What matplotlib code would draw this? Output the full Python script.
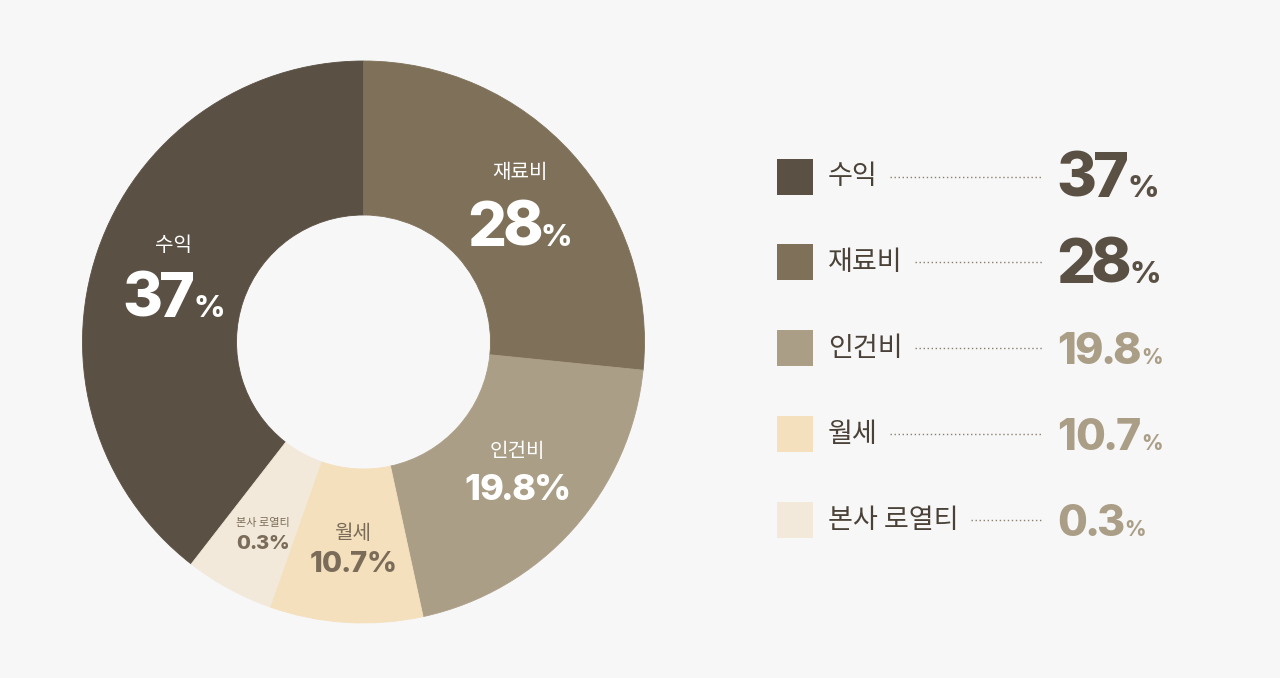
import math
import matplotlib
matplotlib.use('Agg')
import matplotlib.pyplot as plt
from matplotlib.patches import Rectangle
from matplotlib.textpath import TextPath
from matplotlib.font_manager import FontProperties

# ---- data ----
categories = ['수익', '재료비', '인건비', '월세', '본사 로열티']
value_labels = ['37', '28', '19.8', '10.7', '0.3']
# slice sizes as drawn in the reference (share of the ring)
slice_sizes = [39.5, 26.6, 20.0, 8.8, 5.1]

# ---- style ----
colors = ['#5a5044', '#7f7159', '#ab9e87', '#f4e0bd', '#f2e9da']
inner_text_colors = ['white', 'white', 'white', '#7a6c58', '#7a6c58']
legend_value_colors = ['#5a5044', '#5a5044', '#ab9e87', '#ab9e87', '#ab9e87']
BG = '#f7f7f7'

W, H = 1280, 678
fig = plt.figure(figsize=(12.8, 6.78), dpi=100)
fig.patch.set_facecolor(BG)
ax = fig.add_axes([0, 0, 1, 1])
ax.set_facecolor(BG)

KR = ['Noto Sans CJK KR', 'DejaVu Sans']
NUM = ['Inter', 'Noto Sans CJK KR', 'DejaVu Sans']
NUMW = 'heavy'
CAP = 0.727  # cap height ratio for digits
fp_num = FontProperties(family=NUM, weight=NUMW)

cx, cy = 363.5, H - 342
R, r_in = 281, 127
start = 90 + 360 * slice_sizes[0] / sum(slice_sizes)
wedges, _ = ax.pie(slice_sizes, colors=colors, startangle=start, counterclock=False,
                   center=(cx, cy), radius=R,
                   wedgeprops=dict(width=R - r_in, linewidth=0.6))
for w, c in zip(wedges, colors):
    w.set_edgecolor(c)
ax.set_xlim(0, W)
ax.set_ylim(0, H)
ax.set_aspect('auto')
ax.axis('off')


def pt2px(pt):
    return pt / 72 * 100


def ink_x(ch, size_pt):
    e = TextPath((0, 0), ch, size=pt2px(size_pt), prop=fp_num).get_extents()
    return e.x0, e.x1


def draw_chars(x, base, s, size, color, trk):
    """Draw string glyph by glyph, ink boxes separated by trk em. x = ink left."""
    texts = []
    pos = x
    g = trk * pt2px(size)
    for ch in s:
        x0, x1 = ink_x(ch, size)
        t = ax.text(pos - x0, base, ch, fontsize=size, fontweight=NUMW, family=NUM,
                    color=color, va='baseline', ha='left')
        texts.append(t)
        pos += (x1 - x0) + g
    return texts, pos - x - g


def num_pct(x, yc_px, num, s_num, s_pct, color, trk, ha='left', gap=2.5):
    """yc_px: vertical centre of digit caps in pixel (y-down)."""
    base = H - (yc_px + CAP * pt2px(s_num) / 2)
    t1, w1 = draw_chars(x, base, num, s_num, color, trk)
    t2, w2 = draw_chars(x + w1 + gap, base, '%', s_pct, color, trk)
    if ha == 'center':
        shift = (w1 + gap + w2) / 2
        for t in t1 + t2:
            t.set_x(t.get_position()[0] - shift)


fig.canvas.draw()
renderer = fig.canvas.get_renderer()

# ---- labels inside the ring ----
name_sizes = [14.5, 14.5, 14.5, 14.5, 8]
num_sizes = [44, 44, 26, 21, 14.5]
pct_sizes = [22, 22, 26, 21, 14.5]
trks = [0.015, 0.015, 0.06, 0.07, 0.06]
offsets = [25, 26, 18, 14.5, 10]
label_r = [203.5, 213, 199, 205, 214.5]
label_dtheta = [-2, 0.6, 2.3, 0.6, 0.5]
for i, w in enumerate(wedges):
    mid = math.radians((w.theta1 + w.theta2) / 2 + label_dtheta[i])
    gx = cx + label_r[i] * math.cos(mid)
    gy_px = H - (cy + label_r[i] * math.sin(mid))
    ax.text(gx, H - (gy_px - offsets[i] + 1.5), categories[i], fontsize=name_sizes[i],
            family=KR, color=inner_text_colors[i], ha='center', va='center')
    num_pct(gx, gy_px + offsets[i], value_labels[i], num_sizes[i], pct_sizes[i],
            inner_text_colors[i], trks[i], ha='center', gap=3)

# ---- legend ----
row0, row_step = 176.5, 85.9
sq_x, sq = 777, 36
lab_x = 828
dot_end = 1042.5
val_x = 1059
leg_num_sizes = [44, 44, 31, 31, 31]
leg_pct_sizes = [22, 22, 15, 15, 15]
for i in range(len(categories)):
    yc = row0 + i * row_step
    ax.add_patch(Rectangle((sq_x, H - yc - sq / 2), sq, sq, facecolor=colors[i],
                           edgecolor='none'))
    t = ax.text(lab_x, H - yc, categories[i], fontsize=19.5, family=KR, color='#4a4238',
                ha='left', va='center')
    bb = t.get_window_extent(renderer)
    ax.plot([bb.x1 + 12, dot_end], [H - yc, H - yc], color='#8a7f70', lw=1.0,
            linestyle=(0, (1, 1.9)), solid_capstyle='butt', dash_capstyle='butt')
    dy = -2 if i < 2 else 0
    num_pct(val_x, yc + dy, value_labels[i], leg_num_sizes[i], leg_pct_sizes[i],
            legend_value_colors[i], trks[i], ha='left', gap=3)

fig.savefig('out.png', dpi=100, facecolor=BG)
